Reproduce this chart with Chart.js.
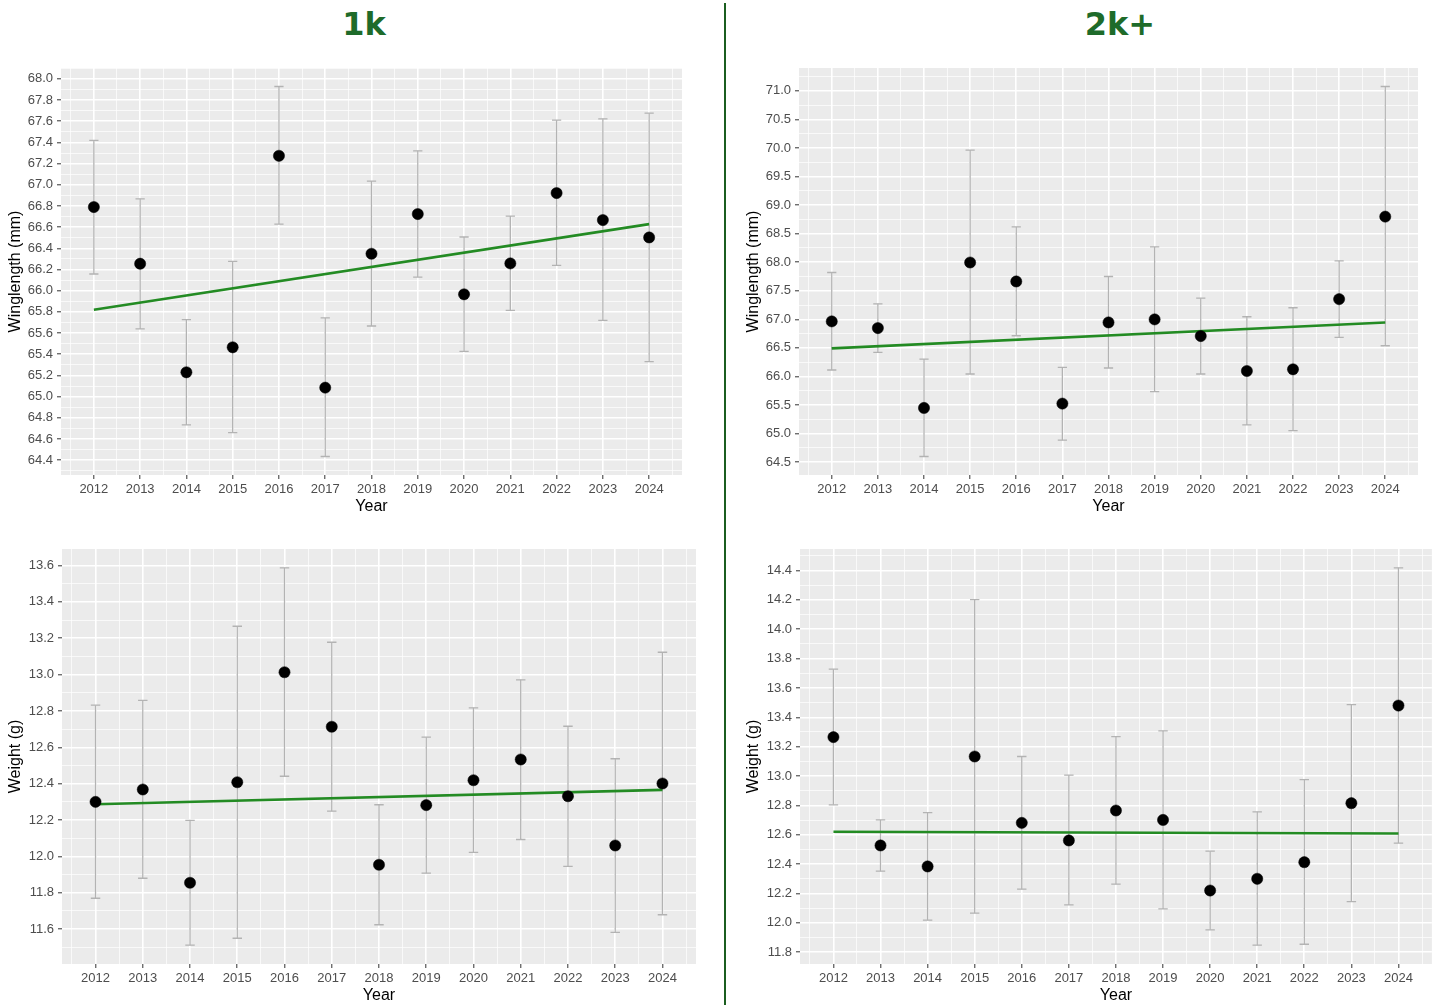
<!DOCTYPE html>
<html><head><meta charset="utf-8">
<script src="https://cdn.jsdelivr.net/npm/chart.js@4.4.1/dist/chart.umd.min.js"></script>
<style>
body{margin:0;background:#fff;width:1438px;height:1005px;position:relative;overflow:hidden;font-family:"Liberation Sans",Arial,sans-serif;}
.head{position:absolute;top:8px;font:bold 32px "DejaVu Sans";color:#1e6b2a;line-height:32px;text-align:center;width:200px}
canvas{position:absolute}
#divider{position:absolute;left:724px;top:3px;width:2px;height:1002px;background:#1b5e20}
</style></head><body>
<div class="head" style="left:264px">1k</div>
<div class="head" style="left:1020px">2k+</div>
<div id="divider"></div>
<canvas id="c1" width="700" height="460" style="left:0;top:60px"></canvas>
<canvas id="c2" width="711" height="460" style="left:727px;top:60px"></canvas>
<canvas id="c3" width="710" height="465" style="left:0;top:540px"></canvas>
<canvas id="c4" width="711" height="465" style="left:727px;top:540px"></canvas>
<script>
// ---------- data ----------
const years = [2012, 2013, 2014, 2015, 2016, 2017, 2018, 2019, 2020, 2021, 2022, 2023, 2024];

const wing1k      = [66.79, 66.255, 65.23, 65.466, 67.274, 65.085, 66.349, 66.724, 65.966, 66.258, 66.922, 66.667, 66.503];
const wing1kLo    = [66.158, 65.639, 64.733, 64.661, 66.629, 64.435, 65.667, 66.129, 65.428, 65.815, 66.239, 65.721, 65.331];
const wing1kHi    = [67.42, 66.868, 65.727, 66.277, 67.928, 65.743, 67.035, 67.321, 66.507, 66.705, 67.61, 67.623, 67.676];
const wing1kTrend = [65.821, 66.629];

const wing2k      = [66.964, 66.847, 65.449, 67.995, 67.663, 65.525, 66.946, 66.999, 66.707, 66.096, 66.125, 67.354, 68.798];
const wing2kLo    = [66.113, 66.422, 64.599, 66.043, 66.713, 64.884, 66.148, 65.735, 66.043, 65.152, 65.053, 66.684, 66.538];
const wing2kHi    = [67.82, 67.272, 66.305, 69.963, 68.618, 66.16, 67.75, 68.268, 67.371, 67.045, 67.203, 68.024, 71.076];
const wing2kTrend = [66.492, 66.946];

const weight1k      = [12.30, 12.368, 11.855, 12.408, 13.013, 12.713, 11.954, 12.282, 12.419, 12.533, 12.331, 12.06, 12.401];
const weight1kLo    = [11.77, 11.88, 11.512, 11.55, 12.441, 12.249, 11.624, 11.908, 12.022, 12.093, 11.945, 11.582, 11.679];
const weight1kHi    = [12.832, 12.858, 12.198, 13.266, 13.587, 13.178, 12.284, 12.656, 12.817, 12.971, 12.716, 12.537, 13.123];
const weight1kTrend = [12.287, 12.366];

const weight2k      = [13.265, 12.527, 12.384, 13.133, 12.681, 12.561, 12.765, 12.701, 12.22, 12.3, 12.413, 12.815, 13.48];
const weight2kLo    = [12.804, 12.352, 12.018, 12.066, 12.229, 12.122, 12.263, 12.095, 11.952, 11.848, 11.854, 12.145, 12.543];
const weight2kHi    = [13.728, 12.701, 12.751, 14.202, 13.133, 13.006, 13.269, 13.308, 12.488, 12.756, 12.976, 13.487, 14.418];
const weight2kTrend = [12.62, 12.608];

const xTitle = 'Year';
const wingTitle = 'Winglength (mm)';
const weightTitle = 'Weight (g)';

// ---------- drawing ----------
Chart.defaults.font.family = '"Liberation Sans", Arial, sans-serif';
const CAP = 0.1;
const isMajor = (v, step) => Math.abs(v / step - Math.round(v / step)) < 1e-6;

const bgPlugin = {
  id: 'panelBg',
  beforeDraw(chart) {
    const a = chart.chartArea, ctx = chart.ctx;
    ctx.save(); ctx.fillStyle = '#ebebeb';
    ctx.fillRect(a.left, a.top, a.right - a.left, a.bottom - a.top);
    ctx.restore();
  }
};

function gridOpts(major) {
  const mj = c => c.tick && isMajor(c.tick.value, major);
  return {
    color: c => mj(c) ? '#ffffff' : 'rgba(255,255,255,0.85)',
    lineWidth: c => mj(c) ? 1.6 : 0.8,
    tickColor: c => mj(c) ? '#333333' : 'rgba(0,0,0,0)',
    tickWidth: c => mj(c) ? 1 : 0,
    tickLength: 4,
    drawTicks: true
  };
}

function makePanel(id, p) {
  const dMin = Math.min(...p.lo), dMax = Math.max(...p.hi);
  const ys = dMax - dMin;
  const xLo = years[0] - CAP, xHi = years[years.length - 1] + CAP, xs = xHi - xLo;
  const bars = [], caps = [];
  years.forEach((yr, i) => {
    bars.push({x: yr, y: p.lo[i]}, {x: yr, y: p.hi[i]}, {x: yr, y: null});
    caps.push({x: yr - CAP, y: p.hi[i]}, {x: yr + CAP, y: p.hi[i]}, {x: yr, y: null});
    caps.push({x: yr - CAP, y: p.lo[i]}, {x: yr + CAP, y: p.lo[i]}, {x: yr, y: null});
  });
  const errStyle = {type: 'line', borderColor: '#b3b3b3', borderWidth: 1.3, pointRadius: 0, spanGaps: false, showLine: true, fill: false, order: 2};
  new Chart(document.getElementById(id), {
    type: 'scatter',
    data: {
      datasets: [
        {type: 'scatter', data: years.map((yr, i) => ({x: yr, y: p.mean[i]})), pointRadius: 5.6,
         pointBackgroundColor: '#000', pointBorderColor: '#000', pointBorderWidth: 0.5, order: 0},
        {type: 'line', data: [{x: years[0], y: p.trend[0]}, {x: years[years.length - 1], y: p.trend[1]}],
         borderColor: '#238b23', borderWidth: 2.6, pointRadius: 0, showLine: true, fill: false, order: 1},
        Object.assign({data: bars}, errStyle),
        Object.assign({data: caps}, errStyle)
      ]
    },
    options: {
      responsive: false, animation: false, events: [],
      layout: {padding: {left: 0, top: p.padTop, right: p.padRight, bottom: 0}},
      plugins: {legend: {display: false}, tooltip: {enabled: false}},
      scales: {
        x: {
          type: 'linear', min: xLo - 0.05 * xs, max: xHi + 0.05 * xs,
          grid: gridOpts(1), border: {display: false},
          ticks: {stepSize: 0.5, autoSkip: false, includeBounds: false, maxRotation: 0, minRotation: 0,
                  padding: 3, color: '#4d4d4d', font: {size: 13},
                  callback: v => isMajor(v, 1) ? String(Math.round(v)) : ''},
          title: {display: true, text: xTitle, color: '#000', font: {size: 16}, padding: {top: 0, bottom: p.xTitlePad}},
          afterFit: s => { s.height = p.xH; s.paddingLeft = 0; s.paddingRight = 0; }
        },
        y: {
          type: 'linear', min: dMin - 0.05 * ys, max: dMax + 0.05 * ys,
          grid: gridOpts(p.major), border: {display: false},
          ticks: {stepSize: p.major / 2, autoSkip: false, includeBounds: false, padding: 4,
                  color: '#4d4d4d', font: {size: 13},
                  callback: v => isMajor(v, p.major) ? v.toFixed(1) : ''},
          title: {display: true, text: p.yTitle, color: '#000', font: {size: 16}, padding: {top: p.yTitlePad, bottom: 0}},
          afterFit: s => { s.width = p.yW; s.paddingTop = 0; s.paddingBottom = 0; }
        }
      }
    },
    plugins: [bgPlugin]
  });
}

makePanel('c1', {mean: wing1k, lo: wing1kLo, hi: wing1kHi, trend: wing1kTrend, yTitle: wingTitle, major: 0.2,
  padTop: 8, padRight: 18, yW: 61, xH: 45, xTitlePad: 3.6, yTitlePad: 6.4});
makePanel('c2', {mean: wing2k, lo: wing2kLo, hi: wing2kHi, trend: wing2kTrend, yTitle: wingTitle, major: 0.5,
  padTop: 8, padRight: 20, yW: 72, xH: 45, xTitlePad: 3.6, yTitlePad: 17.4});
makePanel('c3', {mean: weight1k, lo: weight1kLo, hi: weight1kHi, trend: weight1kTrend, yTitle: weightTitle, major: 0.2,
  padTop: 9, padRight: 14, yW: 62, xH: 41, xTitlePad: -0.4, yTitlePad: 6.4});
makePanel('c4', {mean: weight2k, lo: weight2kLo, hi: weight2kHi, trend: weight2kTrend, yTitle: weightTitle, major: 0.2,
  padTop: 9, padRight: 6, yW: 73, xH: 41, xTitlePad: -0.4, yTitlePad: 17.4});
</script>
</body></html>
